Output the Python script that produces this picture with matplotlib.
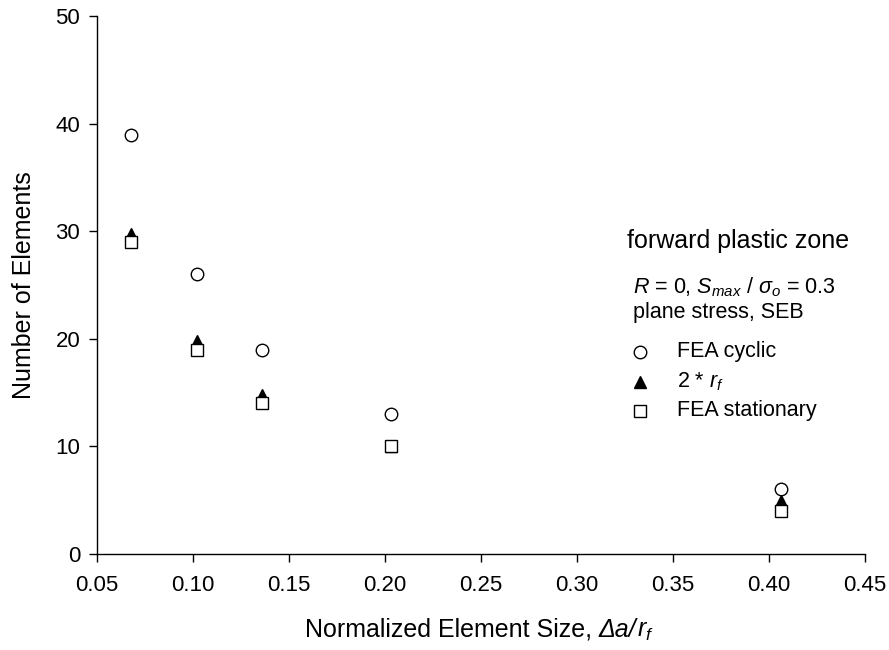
import matplotlib
matplotlib.use("Agg")
import matplotlib.pyplot as plt

plt.rcParams['font.family'] = ['Liberation Sans', 'DejaVu Sans']
plt.rcParams['mathtext.fontset'] = 'custom'
plt.rcParams['mathtext.rm'] = 'Liberation Sans'
plt.rcParams['mathtext.it'] = 'Liberation Sans:italic'
plt.rcParams['mathtext.bf'] = 'Liberation Sans:bold'

# Normalized element size and element counts
element_size = [0.068, 0.102, 0.136, 0.203, 0.406]
fea_cyclic = [39, 26, 19, 13, 6]
two_rf = [29.8, 19.8, 14.8, 10, 4.9]
fea_stationary = [29, 19, 14, 10, 4]

x_ticks = [0.05, 0.10, 0.15, 0.20, 0.25, 0.30, 0.35, 0.40, 0.45]
y_ticks = [0, 10, 20, 30, 40, 50]

series_labels = ['FEA cyclic', r'2 * $\mathit{r_f}$', 'FEA stationary']

fig = plt.figure(figsize=(8.89, 6.5), dpi=100)
ax = fig.add_axes([0.109, 0.1477, 0.864, 0.827])

circle_style = dict(linestyle='none', marker='o', ms=9, mfc='white', mec='black', mew=1.0)
tri_style = dict(linestyle='none', marker='^', ms=9, mfc='black', mec='black', mew=1.0)
square_style = dict(linestyle='none', marker='s', ms=8.5, mfc='white', mec='black', mew=1.0)

ax.plot(element_size, fea_cyclic, zorder=3, **circle_style)
ax.plot(element_size, two_rf, zorder=4, **tri_style)
ax.plot(element_size, fea_stationary, zorder=5, **square_style)

ax.set_xlim(0.05, 0.45)
ax.set_ylim(0, 50)
ax.set_xticks(x_ticks)
ax.set_xticklabels([f'{t:.2f}' for t in x_ticks])
ax.set_yticks(y_ticks)

for side in ('top', 'right'):
    ax.spines[side].set_visible(False)
for side in ('left', 'bottom'):
    ax.spines[side].set_linewidth(1.0)
ax.tick_params(axis='both', direction='out', length=6, width=1.0, labelsize=16)
ax.tick_params(axis='x', pad=9)
ax.tick_params(axis='y', pad=6)

ax.set_ylabel('Number of Elements', fontsize=18, labelpad=14)

# x-axis title assembled from an upright part and an italic part (italic Δ)
xlab_y = -0.154
part1 = ax.text(0.2708, xlab_y, 'Normalized Element Size, ', transform=ax.transAxes,
                fontsize=18, va='baseline', ha='left')
fig.canvas.draw()
renderer = fig.canvas.get_renderer()
x_end = ax.transAxes.inverted().transform((part1.get_window_extent(renderer).x1, 0))[0]
part2 = ax.text(x_end, xlab_y, 'Δa/', transform=ax.transAxes, fontsize=18,
                fontstyle='italic', va='baseline', ha='left')
fig.canvas.draw()
x_end = ax.transAxes.inverted().transform((part2.get_window_extent(renderer).x1, 0))[0]
ax.text(x_end, xlab_y, r'$\mathit{r_f}$', transform=ax.transAxes, fontsize=18,
        va='baseline', ha='left')

# Annotation block and key
ax.text(0.690, 0.569, 'forward plastic zone', transform=ax.transAxes,
        fontsize=18, va='baseline', ha='left')
ax.text(0.698, 0.4856, r'$\mathit{R}$ = 0, $\mathit{S_{max}}$ / $\mathit{\sigma_o}$ = 0.3',
        transform=ax.transAxes, fontsize=15.5, va='baseline', ha='left')
ax.text(0.698, 0.4391, 'plane stress, SEB', transform=ax.transAxes,
        fontsize=15.5, va='baseline', ha='left')

key_marker_x = 0.707
key_text_x = 0.755
key_marker_y = [0.3758, 0.320, 0.266]
key_text_y = [0.3665, 0.3107, 0.2567]
for style, label, my, ty in zip((circle_style, tri_style, square_style), series_labels,
                                key_marker_y, key_text_y):
    ax.plot([key_marker_x], [my], transform=ax.transAxes, clip_on=False, **style)
    ax.text(key_text_x, ty, label, transform=ax.transAxes, fontsize=15.5,
            va='baseline', ha='left')

fig.savefig('out.png', dpi=100)
